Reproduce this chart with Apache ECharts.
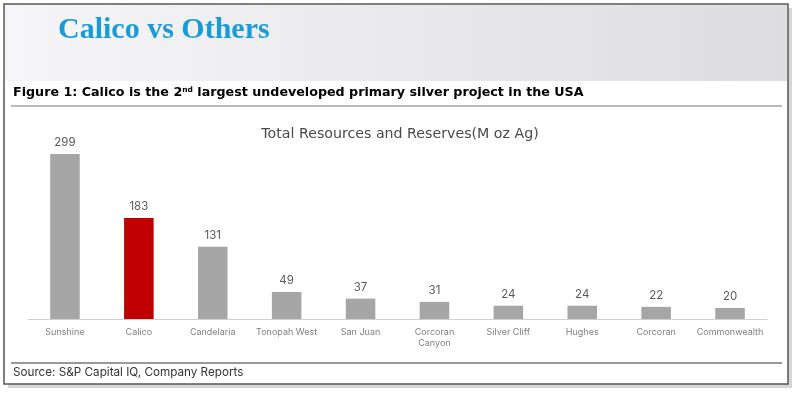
<!DOCTYPE html>
<html><head><meta charset="utf-8">
<script src="https://cdn.jsdelivr.net/npm/echarts@6/dist/echarts.min.js"></script>
<style>html,body{margin:0;padding:0;background:#fff}#c{width:800px;height:398px}</style>
</head><body><div id="c"></div>
<script>
const categories = ['Sunshine','Calico','Candelaria','Tonopah West','San Juan','Corcoran\nCanyon','Silver Cliff','Hughes','Corcoran','Commonwealth'];
const values = [299,183,131,49,37,31,24,24,22,20];
const highlight = 'Calico';
const headerTitle = 'Calico vs Others';
const chartTitle = 'Total Resources and Reserves(M oz Ag)';
const sourceText = 'Source: S&P Capital IQ, Company Reports';

const chart = echarts.init(document.getElementById('c'), null, {renderer:'canvas'});
const font = 'Inter, "Noto Sans", sans-serif';
const wide = '"DejaVu Sans", sans-serif';
chart.setOption({
  animation:false,
  backgroundColor:'#ffffff',
  title:{text:chartTitle,left:'center',top:122,textStyle:{fontFamily:wide,fontSize:14.2,fontWeight:'normal',color:'#4a4a4a'}},
  grid:{left:28,right:33,top:142.3,bottom:79,containLabel:false},
  xAxis:{type:'category',data:categories,
    axisLine:{lineStyle:{color:'#d0d0d0',width:1}},axisTick:{show:false},
    axisLabel:{interval:0,fontFamily:font,fontSize:9,color:'#808080',margin:8,lineHeight:11}},
  yAxis:{type:'value',min:0,max:320,show:false,splitLine:{show:false}},
  series:[{type:'bar',barWidth:'40%',
    data:values.map((v,i)=>({value:v,itemStyle:{color:categories[i]===highlight?'#c00000':'#a6a6a6'}})),
    label:{show:true,position:'top',distance:5,fontFamily:font,fontSize:11.5,color:'#5a5a5a'}}],
  graphic:[
    {type:'rect',shape:{x:8,y:8,width:784,height:380},style:{fill:'#8a8a8a',opacity:0.35},z:-20,silent:true},
    {type:'rect',shape:{x:4,y:4,width:784,height:380},style:{fill:'#fff',stroke:'#555',lineWidth:1.5},z:-10,silent:true},
    {type:'rect',shape:{x:5,y:5,width:782,height:76},style:{fill:new echarts.graphic.LinearGradient(0,0,1,0,[{offset:0,color:'#f6f6f8'},{offset:1,color:'#dddde0'}])},z:-5,silent:true},
    {type:'text',left:58,top:15,style:{text:headerTitle,font:'bold 30px "Liberation Serif", serif',fill:'#1a9bd7'}},
    {type:'text',left:13,top:86,style:{
      text:'{b|Figure 1: Calico is the 2}{s|nd}{b| largest undeveloped primary silver project in the USA}',
      rich:{b:{fontFamily:wide,fontSize:12.7,fontWeight:'bold',color:'#111'},
            s:{fontFamily:wide,fontSize:7.5,fontWeight:'bold',color:'#111',verticalAlign:'top',padding:[0,0,6,0]}}}},
    {type:'line',shape:{x1:11,y1:106,x2:782,y2:106},style:{stroke:'#777',lineWidth:1.2}},
    {type:'line',shape:{x1:11,y1:363,x2:782,y2:363},style:{stroke:'#333',lineWidth:1.2}},
    {type:'text',left:13,top:366,style:{text:sourceText,font:'11.7px Inter, "Noto Sans", sans-serif',fill:'#333'}}
  ]
});
</script></body></html>
